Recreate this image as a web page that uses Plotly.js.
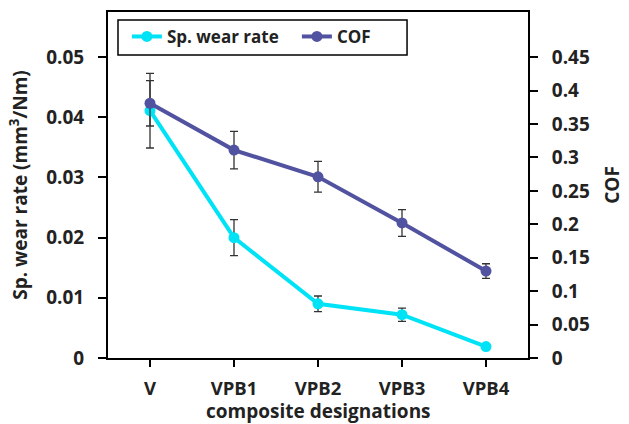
<!DOCTYPE html>
<html>
<head>
<meta charset="utf-8">
<script src="https://cdn.plot.ly/plotly-3.0.1.min.js"></script>
<style>html,body{margin:0;padding:0;background:#fff}#chart{width:629px;height:424px}</style>
</head>
<body>
<div id="chart"></div>
<script>
var categories = ["V", "VPB1", "VPB2", "VPB3", "VPB4"];
var wearRate = [0.0411, 0.0200, 0.0090, 0.0072, 0.0019];
var wearErr = [0.0062, 0.0030, 0.0013, 0.0011, 0.0002];
var cof = [0.381, 0.311, 0.271, 0.202, 0.130];
var cofErr = [0.034, 0.028, 0.023, 0.020, 0.011];
var wearTicks = [0, 0.01, 0.02, 0.03, 0.04, 0.05];
var wearTickText = ["0", "0.01", "0.02", "0.03", "0.04", "0.05"];
var cofTicks = [0, 0.05, 0.1, 0.15, 0.2, 0.25, 0.3, 0.35, 0.4, 0.45];
var cofTickText = ["0", "0.05", "0.1", "0.15", "0.2", "0.25", "0.3", "0.35", "0.4", "0.45"];
var xTitle = "composite designations";
var fam = "Open Sans, Noto Sans, sans-serif";
var txt = "#222222";

var traces = [
  {
    x: categories, y: wearRate, name: "Sp. wear rate", type: "scatter", mode: "lines+markers",
    line: {color: "#00E3F7", width: 4}, marker: {color: "#00E3F7", size: 11},
    error_y: {type: "data", array: wearErr, visible: true, color: "#333333", thickness: 1.3, width: 4},
    yaxis: "y"
  },
  {
    x: categories, y: cof, name: "COF", type: "scatter", mode: "lines+markers",
    line: {color: "#5253A0", width: 4}, marker: {color: "#5253A0", size: 11},
    error_y: {type: "data", array: cofErr, visible: true, color: "#333333", thickness: 1.3, width: 4},
    yaxis: "y2"
  }
];

var layout = {
  width: 629, height: 424,
  margin: {l: 108, r: 101, t: 12, b: 66},
  paper_bgcolor: "#fff", plot_bgcolor: "#fff",
  font: {family: fam, color: txt, size: 18, weight: "bold"},
  showlegend: true,
  legend: {
    orientation: "h", x: 0.045, y: 0.928, xanchor: "left", yanchor: "middle",
    borderwidth: 0, bgcolor: "rgba(0,0,0,0)",
    font: {size: 17, weight: "bold", family: fam, color: txt},
    entrywidth: 125
  },
  shapes: [
    {type: "rect", xref: "paper", yref: "paper", x0: 0.0238, x1: 0.712, y0: 0.876, y1: 0.977,
     line: {color: "#000", width: 1.5}, fillcolor: "#fff", layer: "below"}
  ],
  annotations: [
    {text: xTitle, xref: "paper", yref: "paper", x: 0.5, y: 0, xanchor: "center", yanchor: "middle",
     yshift: -53, showarrow: false, font: {size: 19, weight: "bold", color: txt, family: fam}}
  ],
  xaxis: {
    type: "category", range: [-0.5, 4.5], automargin: false,
    showline: true, linecolor: "#000", linewidth: 2, mirror: true,
    ticks: "outside", ticklen: 7, tickwidth: 2, tickcolor: "#000",
    ticklabelstandoff: 6,
    showgrid: false, zeroline: false,
    tickfont: {size: 18.5, weight: "bold", color: txt}
  },
  yaxis: {
    range: [0, 0.0575], tickvals: wearTicks, ticktext: wearTickText, automargin: false,
    showline: true, linecolor: "#000", linewidth: 2,
    ticks: "outside", ticklen: 8, tickwidth: 2, tickcolor: "#000",
    ticklabelstandoff: 10,
    showgrid: false, zeroline: false,
    tickfont: {size: 19, weight: "bold", color: txt},
    title: {text: "Sp. wear rate (mm<sup>3</sup>/Nm)", font: {size: 19, weight: "bold", color: txt}, standoff: 14}
  },
  yaxis2: {
    overlaying: "y", side: "right", automargin: false,
    range: [0, 0.5175], tickvals: cofTicks, ticktext: cofTickText,
    showline: true, linecolor: "#000", linewidth: 2,
    ticks: "outside", ticklen: 8, tickwidth: 2, tickcolor: "#000",
    ticklabelstandoff: 10,
    showgrid: false, zeroline: false,
    tickfont: {size: 19, weight: "bold", color: txt},
    title: {text: "COF", font: {size: 19, weight: "bold", color: txt}, standoff: 17}
  }
};

Plotly.newPlot("chart", traces, layout, {displayModeBar: false, staticPlot: true});
</script>
</body>
</html>
